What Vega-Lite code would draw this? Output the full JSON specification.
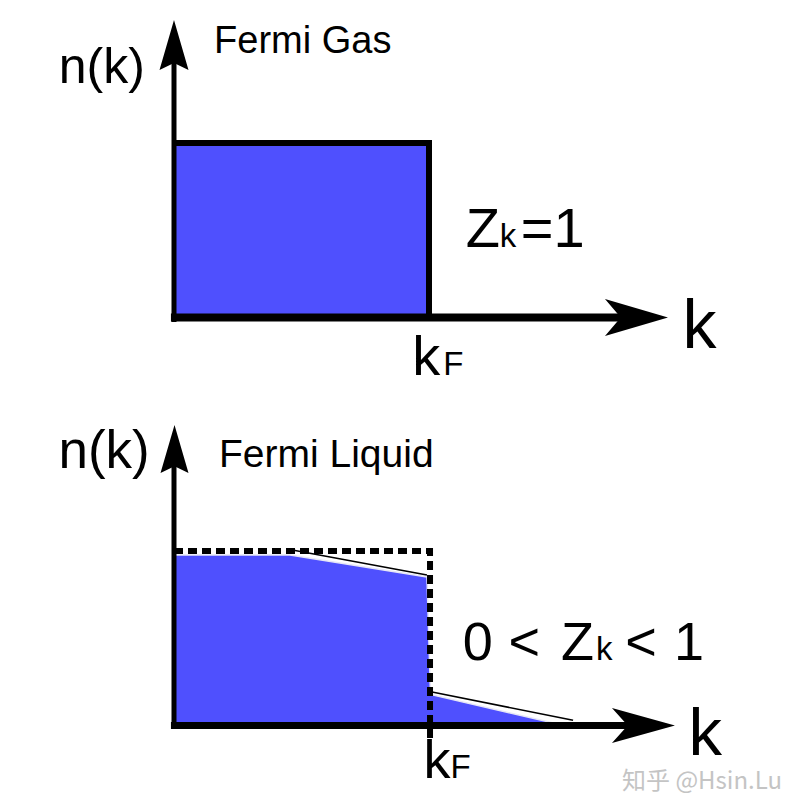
{
  "$schema": "https://vega.github.io/schema/vega-lite/v6.json",
  "padding": 0,
  "background": "white",
  "spacing": 0,
  "config": {"view": {"stroke": null}, "concat": {"spacing": 0}},
  "vconcat": [
    {
      "width": 800,
      "height": 408,
      "layer": [
        {
          "data": {"values": [{"k0": 0, "k1": 1, "n0": 0, "n1": 1}]},
          "mark": {"type": "rect", "color": "#4f50fe", "stroke": "#6d7b6d", "strokeWidth": 1},
          "encoding": {
            "x": {"field": "k0", "type": "quantitative", "scale": {"domain": [-0.68235, 2.4549], "nice": false, "zero": false}, "axis": null},
            "x2": {"field": "k1"},
            "y": {"field": "n0", "type": "quantitative", "scale": {"domain": [-0.5186, 1.8195], "nice": false, "zero": false}, "axis": null},
            "y2": {"field": "n1"}
          }
        },
        {
          "data": {"values": [{"k": 0, "n": 1, "o": 1}, {"k": 1, "n": 1, "o": 2}, {"k": 1, "n": 0, "o": 3}]},
          "mark": {"type": "line", "color": "black", "strokeWidth": 6, "strokeJoin": "miter"},
          "encoding": {
            "x": {"field": "k", "type": "quantitative", "scale": {"domain": [-0.68235, 2.4549], "nice": false, "zero": false}, "axis": null},
            "y": {"field": "n", "type": "quantitative", "scale": {"domain": [-0.5186, 1.8195], "nice": false, "zero": false}, "axis": null},
            "order": {"field": "o", "type": "quantitative"}
          }
        },
        {
          "data": {"values": [{"k0": 0, "n0": -0.026, "n1": 1.47}]},
          "mark": {"type": "rule", "color": "black", "strokeWidth": 5},
          "encoding": {
            "x": {"field": "k0", "type": "quantitative", "scale": {"domain": [-0.68235, 2.4549], "nice": false, "zero": false}, "axis": null},
            "y": {"field": "n0", "type": "quantitative", "scale": {"domain": [-0.5186, 1.8195], "nice": false, "zero": false}, "axis": null},
            "y2": {"field": "n1"}
          }
        },
        {
          "data": {"values": [{"k0": -0.012, "k1": 1.78, "n0": 0}]},
          "mark": {"type": "rule", "color": "black", "strokeWidth": 8},
          "encoding": {
            "x": {"field": "k0", "type": "quantitative", "scale": {"domain": [-0.68235, 2.4549], "nice": false, "zero": false}, "axis": null},
            "x2": {"field": "k1"},
            "y": {"field": "n0", "type": "quantitative", "scale": {"domain": [-0.5186, 1.8195], "nice": false, "zero": false}, "axis": null}
          }
        },
        {
          "data": {"values": [{"k": 0, "n": 1.5616}]},
          "mark": {"type": "point", "filled": true, "color": "black", "opacity": 1, "strokeWidth": 0, "size": 2500, "shape": "M0,-1L0.58,1L0,0.72L-0.58,1Z"},
          "encoding": {
            "x": {"field": "k", "type": "quantitative", "scale": {"domain": [-0.68235, 2.4549], "nice": false, "zero": false}, "axis": null},
            "y": {"field": "n", "type": "quantitative", "scale": {"domain": [-0.5186, 1.8195], "nice": false, "zero": false}, "axis": null}
          }
        },
        {
          "data": {"values": [{"k": 1.8137, "n": 0}]},
          "mark": {"type": "point", "filled": true, "color": "black", "opacity": 1, "strokeWidth": 0, "size": 3969, "shape": "M1,0L-1,-0.587L-0.5,0L-1,0.587Z"},
          "encoding": {
            "x": {"field": "k", "type": "quantitative", "scale": {"domain": [-0.68235, 2.4549], "nice": false, "zero": false}, "axis": null},
            "y": {"field": "n", "type": "quantitative", "scale": {"domain": [-0.5186, 1.8195], "nice": false, "zero": false}, "axis": null}
          }
        },
        {
          "data": {"values": [{"t": "n(k)", "k": -0.452, "n": 1.342}]},
          "mark": {"type": "text", "align": "left", "baseline": "alphabetic", "font": "Liberation Sans", "fontSize": 50, "color": "black"},
          "encoding": {
            "x": {"field": "k", "type": "quantitative", "scale": {"domain": [-0.68235, 2.4549], "nice": false, "zero": false}, "axis": null},
            "y": {"field": "n", "type": "quantitative", "scale": {"domain": [-0.5186, 1.8195], "nice": false, "zero": false}, "axis": null},
            "text": {"field": "t"}
          }
        },
        {
          "data": {"values": [{"t": "Fermi Gas", "k": 0.157, "n": 1.516}]},
          "mark": {"type": "text", "align": "left", "baseline": "alphabetic", "font": "Liberation Sans", "fontSize": 38, "color": "black"},
          "encoding": {
            "x": {"field": "k", "type": "quantitative", "scale": {"domain": [-0.68235, 2.4549], "nice": false, "zero": false}, "axis": null},
            "y": {"field": "n", "type": "quantitative", "scale": {"domain": [-0.5186, 1.8195], "nice": false, "zero": false}, "axis": null},
            "text": {"field": "t"}
          }
        },
        {
          "data": {"values": [{"t": "Z", "k": 1.144, "n": 0.404}, {"t": "=1", "k": 1.36, "n": 0.404}, {"t": "k", "k": 0.9345, "n": -0.33}]},
          "mark": {"type": "text", "align": "left", "baseline": "alphabetic", "font": "Liberation Sans", "fontSize": 56, "color": "black"},
          "encoding": {
            "x": {"field": "k", "type": "quantitative", "scale": {"domain": [-0.68235, 2.4549], "nice": false, "zero": false}, "axis": null},
            "y": {"field": "n", "type": "quantitative", "scale": {"domain": [-0.5186, 1.8195], "nice": false, "zero": false}, "axis": null},
            "text": {"field": "t"}
          }
        },
        {
          "data": {"values": [{"t": "k", "k": 1.277, "n": 0.404}, {"t": "F", "k": 1.056, "n": -0.33}]},
          "mark": {"type": "text", "align": "left", "baseline": "alphabetic", "font": "Liberation Sans", "fontSize": 33, "color": "black"},
          "encoding": {
            "x": {"field": "k", "type": "quantitative", "scale": {"domain": [-0.68235, 2.4549], "nice": false, "zero": false}, "axis": null},
            "y": {"field": "n", "type": "quantitative", "scale": {"domain": [-0.5186, 1.8195], "nice": false, "zero": false}, "axis": null},
            "text": {"field": "t"}
          }
        },
        {
          "data": {"values": [{"t": "k", "k": 1.994, "n": -0.175}]},
          "mark": {"type": "text", "align": "left", "baseline": "alphabetic", "font": "Liberation Sans", "fontSize": 68, "color": "black"},
          "encoding": {
            "x": {"field": "k", "type": "quantitative", "scale": {"domain": [-0.68235, 2.4549], "nice": false, "zero": false}, "axis": null},
            "y": {"field": "n", "type": "quantitative", "scale": {"domain": [-0.5186, 1.8195], "nice": false, "zero": false}, "axis": null},
            "text": {"field": "t"}
          }
        }
      ]
    },
    {
      "width": 800,
      "height": 402,
      "layer": [
        {
          "data": {"values": [{"k": 0, "n": 0.977}, {"k": 0.455, "n": 0.977}, {"k": 0.992, "n": 0.851}, {"k": 1.006, "n": 0.178}, {"k": 1.53, "n": 0}]},
          "mark": {"type": "area", "color": "#4f50fe", "stroke": "#e6e6f6", "strokeWidth": 1.5, "interpolate": "linear"},
          "encoding": {
            "x": {"field": "k", "type": "quantitative", "scale": {"domain": [-0.68235, 2.4549], "nice": false, "zero": false}, "axis": null},
            "y": {"field": "n", "type": "quantitative", "scale": {"domain": [-0.4842, 1.8195], "nice": false, "zero": false}, "axis": null},
            "y2": {"datum": 0}
          }
        },
        {
          "data": {"values": [{"seg": "a", "k": 0.443, "n": 1.011}, {"seg": "a", "k": 0.992, "n": 0.862}, {"seg": "b", "k": 1.012, "n": 0.192}, {"seg": "b", "k": 1.565, "n": 0.03}]},
          "mark": {"type": "line", "color": "black", "strokeWidth": 1.6},
          "encoding": {
            "x": {"field": "k", "type": "quantitative", "scale": {"domain": [-0.68235, 2.4549], "nice": false, "zero": false}, "axis": null},
            "y": {"field": "n", "type": "quantitative", "scale": {"domain": [-0.4842, 1.8195], "nice": false, "zero": false}, "axis": null},
            "detail": {"field": "seg"}
          }
        },
        {
          "data": {"values": [{"k": 0, "n": 1, "o": 1}, {"k": 1.004, "n": 1, "o": 2}, {"k": 1.004, "n": -0.09, "o": 3}]},
          "mark": {"type": "line", "color": "black", "strokeWidth": 6, "strokeDash": [9, 5], "strokeJoin": "miter"},
          "encoding": {
            "x": {"field": "k", "type": "quantitative", "scale": {"domain": [-0.68235, 2.4549], "nice": false, "zero": false}, "axis": null},
            "y": {"field": "n", "type": "quantitative", "scale": {"domain": [-0.4842, 1.8195], "nice": false, "zero": false}, "axis": null},
            "order": {"field": "o", "type": "quantitative"}
          }
        },
        {
          "data": {"values": [{"k0": 0, "n0": -0.02, "n1": 1.5}]},
          "mark": {"type": "rule", "color": "black", "strokeWidth": 5},
          "encoding": {
            "x": {"field": "k0", "type": "quantitative", "scale": {"domain": [-0.68235, 2.4549], "nice": false, "zero": false}, "axis": null},
            "y": {"field": "n0", "type": "quantitative", "scale": {"domain": [-0.4842, 1.8195], "nice": false, "zero": false}, "axis": null},
            "y2": {"field": "n1"}
          }
        },
        {
          "data": {"values": [{"k0": -0.012, "k1": 1.8, "n0": 0}]},
          "mark": {"type": "rule", "color": "black", "strokeWidth": 7},
          "encoding": {
            "x": {"field": "k0", "type": "quantitative", "scale": {"domain": [-0.68235, 2.4549], "nice": false, "zero": false}, "axis": null},
            "x2": {"field": "k1"},
            "y": {"field": "n0", "type": "quantitative", "scale": {"domain": [-0.4842, 1.8195], "nice": false, "zero": false}, "axis": null}
          }
        },
        {
          "data": {"values": [{"k": 0.002, "n": 1.5845}]},
          "mark": {"type": "point", "filled": true, "color": "black", "opacity": 1, "strokeWidth": 0, "size": 2304, "shape": "M0,-1L0.583,1L0,0.72L-0.583,1Z"},
          "encoding": {
            "x": {"field": "k", "type": "quantitative", "scale": {"domain": [-0.68235, 2.4549], "nice": false, "zero": false}, "axis": null},
            "y": {"field": "n", "type": "quantitative", "scale": {"domain": [-0.4842, 1.8195], "nice": false, "zero": false}, "axis": null}
          }
        },
        {
          "data": {"values": [{"k": 1.841, "n": 0}]},
          "mark": {"type": "point", "filled": true, "color": "black", "opacity": 1, "strokeWidth": 0, "size": 3969, "shape": "M1,0L-1,-0.556L-0.5,0L-1,0.556Z"},
          "encoding": {
            "x": {"field": "k", "type": "quantitative", "scale": {"domain": [-0.68235, 2.4549], "nice": false, "zero": false}, "axis": null},
            "y": {"field": "n", "type": "quantitative", "scale": {"domain": [-0.4842, 1.8195], "nice": false, "zero": false}, "axis": null}
          }
        },
        {
          "data": {"values": [{"t": "n(k)", "k": -0.453, "n": 1.474}]},
          "mark": {"type": "text", "align": "left", "baseline": "alphabetic", "font": "Liberation Sans", "fontSize": 53, "color": "black"},
          "encoding": {
            "x": {"field": "k", "type": "quantitative", "scale": {"domain": [-0.68235, 2.4549], "nice": false, "zero": false}, "axis": null},
            "y": {"field": "n", "type": "quantitative", "scale": {"domain": [-0.4842, 1.8195], "nice": false, "zero": false}, "axis": null},
            "text": {"field": "t"}
          }
        },
        {
          "data": {"values": [{"t": "Fermi Liquid", "k": 0.1765, "n": 1.481}]},
          "mark": {"type": "text", "align": "left", "baseline": "alphabetic", "font": "Liberation Sans", "fontSize": 39, "color": "black"},
          "encoding": {
            "x": {"field": "k", "type": "quantitative", "scale": {"domain": [-0.68235, 2.4549], "nice": false, "zero": false}, "axis": null},
            "y": {"field": "n", "type": "quantitative", "scale": {"domain": [-0.4842, 1.8195], "nice": false, "zero": false}, "axis": null},
            "text": {"field": "t"}
          }
        },
        {
          "data": {"values": [{"t": "0", "k": 1.1322, "n": 0.375}, {"t": "<", "k": 1.3114, "n": 0.375}, {"t": "Z", "k": 1.5176, "n": 0.375}, {"t": "<", "k": 1.77, "n": 0.375}, {"t": "1", "k": 1.961, "n": 0.375}, {"t": "k", "k": 0.978, "n": -0.301}]},
          "mark": {"type": "text", "align": "left", "baseline": "alphabetic", "font": "Liberation Sans", "fontSize": 54, "color": "black"},
          "encoding": {
            "x": {"field": "k", "type": "quantitative", "scale": {"domain": [-0.68235, 2.4549], "nice": false, "zero": false}, "axis": null},
            "y": {"field": "n", "type": "quantitative", "scale": {"domain": [-0.4842, 1.8195], "nice": false, "zero": false}, "axis": null},
            "text": {"field": "t"}
          }
        },
        {
          "data": {"values": [{"t": "k", "k": 1.655, "n": 0.375}, {"t": "F", "k": 1.084, "n": -0.301}]},
          "mark": {"type": "text", "align": "left", "baseline": "alphabetic", "font": "Liberation Sans", "fontSize": 33, "color": "black"},
          "encoding": {
            "x": {"field": "k", "type": "quantitative", "scale": {"domain": [-0.68235, 2.4549], "nice": false, "zero": false}, "axis": null},
            "y": {"field": "n", "type": "quantitative", "scale": {"domain": [-0.4842, 1.8195], "nice": false, "zero": false}, "axis": null},
            "text": {"field": "t"}
          }
        },
        {
          "data": {"values": [{"t": "k", "k": 2.0176, "n": -0.169}]},
          "mark": {"type": "text", "align": "left", "baseline": "alphabetic", "font": "Liberation Sans", "fontSize": 67, "color": "black"},
          "encoding": {
            "x": {"field": "k", "type": "quantitative", "scale": {"domain": [-0.68235, 2.4549], "nice": false, "zero": false}, "axis": null},
            "y": {"field": "n", "type": "quantitative", "scale": {"domain": [-0.4842, 1.8195], "nice": false, "zero": false}, "axis": null},
            "text": {"field": "t"}
          }
        },
        {
          "data": {"values": [{"t": "知乎 @Hsin.Lu", "k": 1.757, "n": -0.362}]},
          "mark": {"type": "text", "align": "left", "baseline": "alphabetic", "font": "Noto Sans CJK SC", "fontSize": 24, "color": "#c4c4c4"},
          "encoding": {
            "x": {"field": "k", "type": "quantitative", "scale": {"domain": [-0.68235, 2.4549], "nice": false, "zero": false}, "axis": null},
            "y": {"field": "n", "type": "quantitative", "scale": {"domain": [-0.4842, 1.8195], "nice": false, "zero": false}, "axis": null},
            "text": {"field": "t"}
          }
        }
      ]
    }
  ]
}
